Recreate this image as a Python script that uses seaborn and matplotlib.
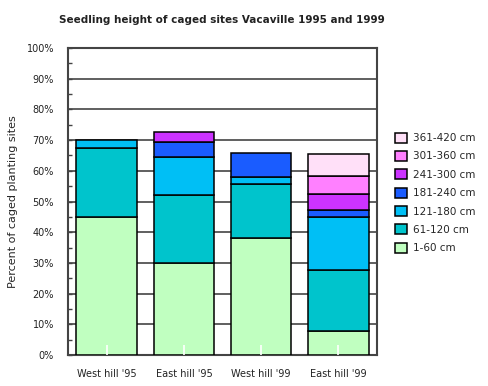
import pandas as pd
import numpy as np
import matplotlib
matplotlib.use("Agg")
import matplotlib.pyplot as plt
from matplotlib.patches import Patch
import seaborn as sns

sites = ["West hill '95", "East hill '95", "West hill '99", "East hill '99"]
classes = ["1-60 cm", "61-120 cm", "121-180 cm", "181-240 cm",
           "241-300 cm", "301-360 cm", "361-420 cm"]
h_1_60 = [45.0, 30.0, 38.0, 7.8]
h_61_120 = [22.5, 22.0, 17.8, 19.9]
h_121_180 = [2.5, 12.5, 2.3, 17.3]
h_181_240 = [0.0, 5.0, 7.8, 2.3]
h_241_300 = [0.0, 3.0, 0.0, 5.2]
h_301_360 = [0.0, 0.0, 0.0, 5.9]
h_361_420 = [0.0, 0.0, 0.0, 7.2]
colors = ["#C0FFC0", "#00C4CC", "#00BFF5", "#1A5CFF",
          "#CC33FF", "#FF80FF", "#FFE0F8"]

series = [h_1_60, h_61_120, h_121_180, h_181_240, h_241_300, h_301_360, h_361_420]

sns.set_style("white")
plt.rcParams['font.family'] = ['DejaVu Sans']

fig = plt.figure(figsize=(4.88, 3.86), dpi=100)
ax = fig.add_axes([68/488, 1-355/386, 309/488, 307/386])

bottom = np.zeros(len(sites))
for name, vals, col in zip(classes, series, colors):
    df = pd.DataFrame({"site": sites, "pct": vals})
    sns.barplot(data=df, x="site", y="pct", bottom=bottom, color=col,
                saturation=1, width=0.78, edgecolor="black", linewidth=1.1,
                ax=ax, zorder=3)
    bottom = bottom + np.array(vals)

# no outline for empty segments
for p in ax.patches:
    if p.get_height() == 0:
        p.set_linewidth(0)

ax.set_ylim(0, 100)
ax.set_xlim(-0.5, 3.5)
ax.set_yticks(np.arange(0, 101, 10))
ax.set_yticklabels([f"{v}%" for v in range(0, 101, 10)], fontsize=7, color="#222222")
ax.set_yticks(np.arange(5, 100, 10), minor=True)
ax.yaxis.grid(True, color="#444444", linewidth=1.2)
ax.set_axisbelow(True)
ax.tick_params(axis="y", which="both", left=True, direction="in", length=3, width=1,
               color="#444444", pad=10)
ax.tick_params(axis="x", bottom=True, direction="in", length=7, color="white",
               width=1.2, pad=10, labelsize=7, labelcolor="#222222")
ax.xaxis.set_zorder(5)
ax.set_xlabel("")
ax.set_ylabel("Percent of caged planting sites", fontsize=8, labelpad=6)
for s in ax.spines.values():
    s.set_color("#444444")
    s.set_linewidth(1.5)

fig.text(222/488, 1-20/386, "Seedling height of caged sites Vacaville 1995 and 1999",
         ha="center", va="center", fontsize=7.5, fontweight="bold", color="#222222")

handles = [Patch(facecolor=c, edgecolor="black", linewidth=1.1, label=n)
           for n, c in zip(classes, colors)]
ax.legend(handles=handles[::-1], loc="center left", bbox_to_anchor=(1.045, 0.528),
          borderaxespad=0, frameon=False, fontsize=7.5, handlelength=1.1,
          handleheight=1.1, labelspacing=0.75, handletextpad=0.6)

fig.savefig("out.png", dpi=100)
